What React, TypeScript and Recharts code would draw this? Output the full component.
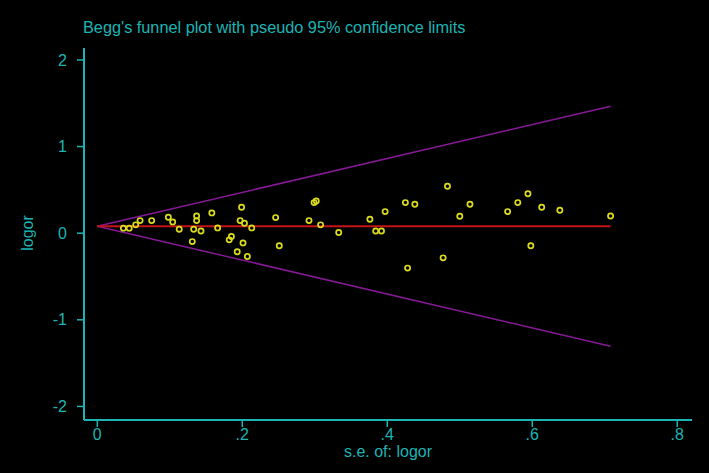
import React from "react";
import { ScatterChart, Scatter, XAxis, YAxis } from "recharts";

// study standard errors and log odds ratios
const seValues = [
  0.036, 0.044, 0.053, 0.059, 0.075, 0.098, 0.104, 0.113, 0.133, 0.137,
  0.137, 0.143, 0.131, 0.158, 0.166, 0.185, 0.182, 0.199, 0.197, 0.203,
  0.213, 0.201, 0.193, 0.207, 0.246, 0.251, 0.299, 0.302, 0.292, 0.308,
  0.333, 0.376, 0.397, 0.384, 0.392, 0.425, 0.438, 0.483, 0.5, 0.514,
  0.477, 0.428, 0.566, 0.58, 0.594, 0.613, 0.638, 0.708, 0.598,
];
const logorValues = [
  0.058, 0.058, 0.096, 0.145, 0.145, 0.184, 0.13, 0.046, 0.046, 0.199,
  0.145, 0.026, -0.097, 0.234, 0.061, -0.039, -0.077, 0.3, 0.145, 0.115,
  0.061, -0.112, -0.215, -0.27, 0.18, -0.146, 0.353, 0.372, 0.145, 0.096,
  0.007, 0.161, 0.249, 0.026, 0.026, 0.353, 0.334, 0.541, 0.196, 0.334,
  -0.285, -0.403, 0.249, 0.353, 0.456, 0.3, 0.265, 0.199, -0.146,
];

// pooled estimate and pseudo 95% limits, read at se = 0 and se = max
const limitSe = [0, 0.708];
const pooledLine = [0.08, 0.08];
const upperLimit = [0.08, 1.465];
const lowerLimit = [0.08, -1.305];

const xTicks = [0, 0.2, 0.4, 0.6, 0.8];
const yTicks = [-2, -1, 0, 1, 2];

const CYAN = "#1cb4b4";
const FONT = "'Liberation Sans', Arial, sans-serif";

const studies = seValues.map((se, i) => ({ se, logor: logorValues[i] }));
const toLine = (ys: number[]) => limitSe.map((se, i) => ({ se, logor: ys[i] }));

const fmtX = (v: number) => (v === 0 ? "0" : String(v).replace(/^0/, ""));

const HollowDot = (props: any) => (
  <circle cx={props.cx} cy={props.cy} r={2.6} fill="none" stroke="#dcdc1e" strokeWidth={1.7} />
);
const NoDot = () => <g />;

export default function App() {
  const tickStyle = { fill: CYAN, fontSize: 16, fontFamily: FONT };
  return (
    <div style={{ position: "absolute", left: 0, top: 0, width: 709, height: 473, background: "#000" }}>
      <ScatterChart width={709} height={473} margin={{ top: 48, right: 17, bottom: 0, left: 0 }}>
        <XAxis
          type="number"
          dataKey="se"
          domain={[-0.01834, 0.8203]}
          ticks={xTicks}
          tickFormatter={fmtX}
          allowDataOverflow
          height={53}
          tickSize={7}
          tickMargin={2}
          axisLine={{ stroke: CYAN, strokeWidth: 2 }}
          tickLine={{ stroke: CYAN, strokeWidth: 1.5 }}
          tick={tickStyle}
        />
        <YAxis
          type="number"
          dataKey="logor"
          domain={[-2.157, 2.138]}
          ticks={yTicks}
          allowDataOverflow
          width={84}
          tickSize={7}
          tickMargin={10}
          axisLine={{ stroke: CYAN, strokeWidth: 2 }}
          tickLine={{ stroke: CYAN, strokeWidth: 1.5 }}
          tick={tickStyle}
        />
        <Scatter data={toLine(upperLimit)} line={{ stroke: "#861a96", strokeWidth: 1.5 }} shape={NoDot} isAnimationActive={false} />
        <Scatter data={toLine(lowerLimit)} line={{ stroke: "#861a96", strokeWidth: 1.5 }} shape={NoDot} isAnimationActive={false} />
        <Scatter data={toLine(pooledLine)} line={{ stroke: "#c41414", strokeWidth: 2.2 }} shape={NoDot} isAnimationActive={false} />
        <Scatter data={studies} shape={HollowDot} isAnimationActive={false} />
      </ScatterChart>
      <svg width={709} height={473} style={{ position: "absolute", left: 0, top: 0, pointerEvents: "none" }}>
        <text x={83} y={33} fill={CYAN} fontSize={16.3} fontFamily={FONT}>
          Begg's funnel plot with pseudo 95% confidence limits
        </text>
        <text x={388} y={457} fill={CYAN} fontSize={16} fontFamily={FONT} textAnchor="middle">
          s.e. of: logor
        </text>
        <text x={33} y={233} fill={CYAN} fontSize={16} fontFamily={FONT} textAnchor="middle" transform="rotate(-90 33 233)">
          logor
        </text>
      </svg>
    </div>
  );
}
